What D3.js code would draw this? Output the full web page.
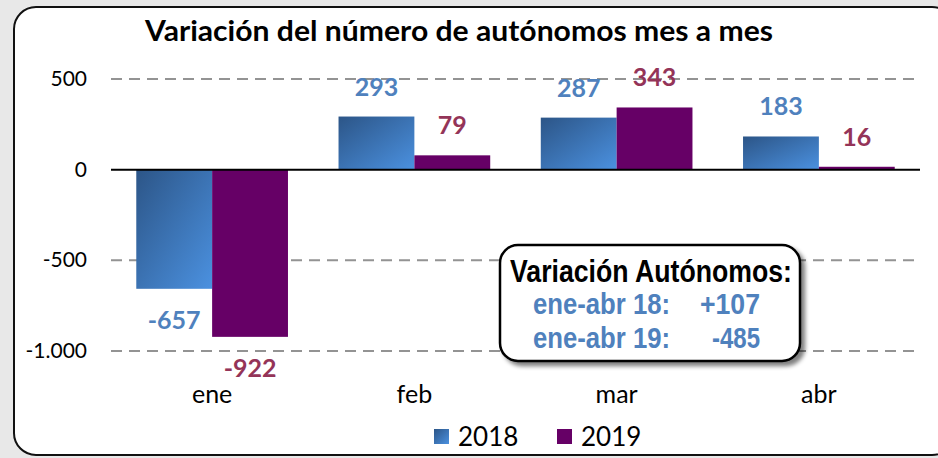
<!DOCTYPE html>
<html>
<head>
<meta charset="utf-8">
<script src="https://cdn.jsdelivr.net/npm/d3@7"></script>
<style>
  body { margin: 0; background: #e8e8e8; }
  svg { display: block; }
</style>
</head>
<body>
<div class="plot"></div>
<script>
// data
var months = ["ene", "feb", "mar", "abr"];
var years = ["2018", "2019"];
var values2018 = [-657, 293, 287, 183];
var values2019 = [-922, 79, 343, 16];
var yTicks = [500, 0, -500, -1000];
var summaryLines = [["ene-abr 18:", "+107"], ["ene-abr 19:", "-485"]];

var W = 938, H = 458;
var blueTxt = "#4f81bd", redTxt = "#943458", purple = "#660066";
var font = "Lato, 'Open Sans', sans-serif";
var esFormat = d3.formatLocale({ decimal: ",", thousands: ".", grouping: [3], currency: ["", "€"], minus: "-" }).format(",");

var svg = d3.select(".plot").append("svg")
  .attr("width", W)
  .attr("height", H);

var defs = svg.append("defs");
var grad = defs.append("linearGradient")
  .attr("id", "blueGrad")
  .attr("x1", "0%").attr("y1", "0%")
  .attr("x2", "100%").attr("y2", "100%");
grad.append("stop").attr("offset", "0%").attr("stop-color", "#2c5587");
grad.append("stop").attr("offset", "100%").attr("stop-color", "#4b91e0");

var shadow = defs.append("filter").attr("id", "shadow")
  .attr("x", "-10%").attr("y", "-10%").attr("width", "130%").attr("height", "130%");
shadow.append("feGaussianBlur").attr("in", "SourceAlpha").attr("stdDeviation", 2);
shadow.append("feOffset").attr("dx", 4).attr("dy", 4).attr("result", "off");
shadow.append("feComponentTransfer").append("feFuncA").attr("type", "linear").attr("slope", 0.5);
var merge = shadow.append("feMerge");
merge.append("feMergeNode");
merge.append("feMergeNode").attr("in", "SourceGraphic");

// outer panel
svg.append("rect")
  .attr("x", 14).attr("y", 7)
  .attr("width", 940).attr("height", 448)
  .attr("rx", 22).attr("ry", 22)
  .style("fill", "#fff")
  .style("stroke", "#111")
  .style("stroke-width", 2);

svg.append("text")
  .attr("x", 145).attr("y", 41)
  .attr("textLength", 628)
  .attr("lengthAdjust", "spacingAndGlyphs")
  .style("font-family", font)
  .style("font-weight", "bold")
  .style("font-size", "28px")
  .text("Variación del número de autónomos mes a mes");

var x = d3.scaleBand().domain(months).range([111, 920]).paddingInner(0.25).paddingOuter(0.125);
var xs = d3.scaleBand().domain(years).range([0, x.bandwidth()]);
var y = d3.scaleLinear().domain([-1000, 500]).range([351, 79]);

// grid
svg.selectAll("line.grid")
  .data(yTicks.filter(function(d) { return d !== 0; }))
  .enter()
  .append("line")
  .attr("class", "grid")
  .attr("x1", 111).attr("x2", 920)
  .attr("y1", function(d) { return y(d); })
  .attr("y2", function(d) { return y(d); })
  .style("stroke", "#939393")
  .style("stroke-width", 2)
  .style("stroke-dasharray", "11,7");

svg.selectAll("text.ytick")
  .data(yTicks)
  .enter()
  .append("text")
  .attr("class", "ytick")
  .attr("x", 87)
  .attr("y", function(d) { return y(d) + 7; })
  .style("text-anchor", "end")
  .style("font-family", font)
  .style("font-size", "21px")
  .text(function(d) { return esFormat(d); });

var series = [
  { year: "2018", values: values2018, fill: "url(#blueGrad)", color: blueTxt },
  { year: "2019", values: values2019, fill: purple, color: redTxt }
];

series.forEach(function(s) {
  var g = svg.append("g");
  g.selectAll("rect")
    .data(s.values)
    .enter()
    .append("rect")
    .attr("x", function(d, i) { return x(months[i]) + xs(s.year); })
    .attr("y", function(d) { return y(Math.max(0, d)); })
    .attr("width", xs.bandwidth())
    .attr("height", function(d) { return Math.abs(y(d) - y(0)); })
    .style("fill", s.fill);
  g.selectAll("text")
    .data(s.values)
    .enter()
    .append("text")
    .attr("x", function(d, i) { return x(months[i]) + xs(s.year) + xs.bandwidth() / 2; })
    .attr("y", function(d) { return d >= 0 ? y(d) - 21 : y(d) + 40; })
    .style("text-anchor", "middle")
    .style("font-family", font)
    .style("font-size", "25px")
    .style("font-weight", "bold")
    .style("fill", s.color)
    .text(function(d) { return esFormat(d); });
});

// zero line
svg.append("line")
  .attr("x1", 111).attr("x2", 920)
  .attr("y1", y(0)).attr("y2", y(0))
  .style("stroke", "#000")
  .style("stroke-width", 2);

svg.selectAll("text.xlab")
  .data(months)
  .enter()
  .append("text")
  .attr("class", "xlab")
  .attr("x", function(d) { return x(d) + x.bandwidth() / 2; })
  .attr("y", 403)
  .style("text-anchor", "middle")
  .style("font-family", font)
  .style("font-size", "25px")
  .text(function(d) { return d; });

// legend
var legend = svg.append("g");
[{ t: "2018", f: "url(#blueGrad)", x: 434 }, { t: "2019", f: purple, x: 557 }].forEach(function(l) {
  legend.append("rect")
    .attr("x", l.x).attr("y", 429)
    .attr("width", 15).attr("height", 15)
    .style("fill", l.f);
  legend.append("text")
    .attr("x", l.x + 24).attr("y", 446)
    .style("font-family", font)
    .style("font-size", "26px")
    .text(l.t);
});

// summary box
var box = svg.append("g");
box.append("rect")
  .attr("x", 500).attr("y", 245)
  .attr("width", 300).attr("height", 116)
  .attr("rx", 18).attr("ry", 18)
  .style("fill", "#fff")
  .style("stroke", "#000")
  .style("stroke-width", 2.5)
  .attr("filter", "url(#shadow)");
var narrow = "'Liberation Sans', Arial, sans-serif";
box.append("text")
  .attr("x", 510).attr("y", 282)
  .attr("textLength", 282)
  .attr("lengthAdjust", "spacingAndGlyphs")
  .style("font-family", narrow)
  .style("font-weight", "bold")
  .style("font-size", "32px")
  .text("Variación Autónomos:");
summaryLines.forEach(function(r, i) {
  var yy = 314 + i * 34;
  box.append("text")
    .attr("x", 533).attr("y", yy)
    .attr("textLength", 137)
    .attr("lengthAdjust", "spacingAndGlyphs")
    .style("font-family", narrow)
    .style("font-weight", "bold")
    .style("font-size", "29px")
    .style("fill", blueTxt)
    .text(r[0]);
  box.append("text")
    .attr("x", 760).attr("y", yy)
    .style("text-anchor", "end")
    .attr("textLength", i === 0 ? 60 : 48)
    .attr("lengthAdjust", "spacingAndGlyphs")
    .style("font-family", narrow)
    .style("font-weight", "bold")
    .style("font-size", "29px")
    .style("fill", blueTxt)
    .text(r[1]);
});
</script>
</body>
</html>
